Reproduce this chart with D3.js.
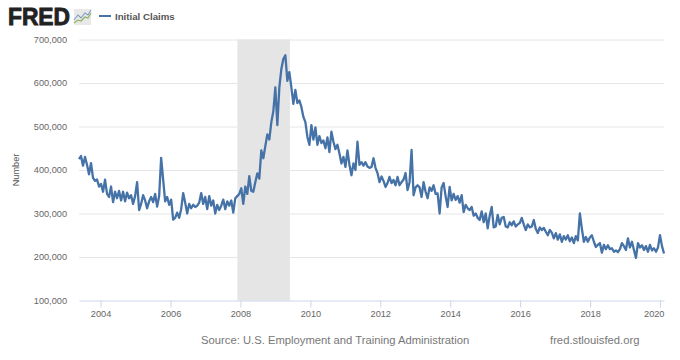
<!DOCTYPE html>
<html><head><meta charset="utf-8">
<script src="https://cdnjs.cloudflare.com/ajax/libs/d3/7.8.5/d3.min.js"></script>
<style>html,body{margin:0;padding:0;background:#fff}svg{display:block;font-family:"Liberation Sans",Arial,sans-serif}</style>
</head><body><svg id="c" width="680" height="360"></svg>
<script>
const seriesName = "Initial Claims";
const startDate = "2003-05-21";
const endDate = "2020-02-12";
const recession = ["2007-12-01", "2009-06-01"];
const yTicks = [100000,200000,300000,400000,500000,600000,700000];
const xTickYears = [2004,2006,2008,2010,2012,2014,2016,2018,2020];
// Initial claims, thousands at roughly three-week spacing
const claims = [
425,432,410,430,412,390,416,382,375,378,
362,368,350,378,345,338,362,326,350,335,
352,330,350,328,348,335,342,322,340,372,
308,322,342,330,312,328,338,326,345,316,
340,428,378,328,338,320,332,286,290,302,
290,310,347,325,300,322,312,320,315,318,
325,347,322,338,310,340,318,330,300,320,
308,318,332,310,328,318,330,302,335,340,
345,358,322,362,345,386,352,350,372,392,
380,445,427,455,482,470,510,535,590,503,
590,632,655,664,605,625,590,552,584,554,
560,545,522,510,476,458,503,470,498,458,
478,462,468,450,475,441,488,465,448,458,
438,415,430,407,445,412,388,415,400,465,
412,418,410,418,408,405,407,427,405,393,
372,385,375,361,370,384,370,377,365,384,
365,372,378,393,354,372,446,342,360,365,
360,338,372,350,335,360,352,365,345,346,
300,360,370,340,315,361,330,345,331,340,
325,342,303,320,312,308,315,295,300,290,
285,305,280,300,266,295,315,268,270,297,
275,290,292,270,268,280,273,282,270,275,
278,290,275,262,275,268,270,285,265,255,
268,262,267,258,250,262,256,243,255,240,
252,235,248,240,250,236,245,232,248,238,
300,265,235,246,235,245,250,235,223,228,
232,210,228,218,227,218,220,212,215,211,
218,232,225,216,243,222,235,216,198,232,
222,227,216,225,212,228,215,220,212,222,
250,225,208
];

const svg = d3.select("#c");
const parse = d3.utcParse("%Y-%m-%d");
const t0 = parse(startDate), t1 = parse(endDate);
const x = d3.scaleUtc().domain([t0,t1]).range([79,664]);
const y = d3.scaleLinear().domain([100000,700000]).range([300.5,39.5]);
const step = (t1-t0)/(claims.length-1);
const rows = claims.map((v,i)=>({date:new Date(+t0+i*step), value:v*1000}));

// recession band
svg.append("rect").attr("x",x(parse(recession[0]))).attr("y",39.5)
  .attr("width",x(parse(recession[1]))-x(parse(recession[0]))).attr("height",261)
  .attr("fill","#e5e5e5");

// grid + y labels
const yAxis = d3.axisLeft(y).tickValues(yTicks).tickSize(-585).tickPadding(12).tickFormat(d3.format(","));
const gy = svg.append("g").attr("transform","translate(79,0)").call(yAxis);
gy.select(".domain").remove();
gy.selectAll(".tick line").attr("stroke","#e6e6e6").attr("stroke-width",1);
gy.selectAll(".tick").filter(d=>d===100000).select("line").remove();
gy.selectAll("text").attr("fill","#666").attr("font-size",9.2).attr("font-family","Liberation Sans");

// x axis
const xAxis = d3.axisBottom(x).tickValues(xTickYears.map(yr=>new Date(Date.UTC(yr,0,1))))
  .tickSize(7).tickPadding(3).tickSizeOuter(0).tickFormat(d3.utcFormat("%Y"));
const gx = svg.append("g").attr("transform","translate(0,300.5)").call(xAxis);
gx.select(".domain").attr("stroke","#ccd6eb");
gx.selectAll(".tick line").attr("stroke","#ccd6eb");
gx.selectAll("text").attr("fill","#666").attr("font-size",9.2).attr("font-family","Liberation Sans");
gx.selectAll(".tick").filter(d=>d.getUTCFullYear()===2020).select("text").attr("text-anchor","end").attr("x",4);

// series
svg.append("path").datum(rows).attr("fill","none").attr("stroke","#4572a7").attr("stroke-width",2.3)
  .attr("stroke-linejoin","round")
  .attr("d",d3.line().x(d=>x(d.date)).y(d=>y(d.value)));

// y title
svg.append("text").attr("transform","translate(18.5,170) rotate(-90)").attr("text-anchor","middle")
  .attr("font-size",9.2).attr("fill","#555").text("Number");

// logo
svg.append("text").attr("x",8).attr("y",24.5).attr("font-size",24).attr("font-weight",700)
  .attr("fill","#222").attr("stroke","#222").attr("stroke-width",0.9)
  .attr("textLength",62).attr("lengthAdjust","spacingAndGlyphs").text("FRED");
const icon = svg.append("g");
icon.append("rect").attr("x",74).attr("y",9).attr("width",17).attr("height",16).attr("fill","#e8e8e8");
const iconLine = d3.line();
icon.append("path").attr("d",iconLine([[74,20],[78,15],[81,18],[85,13],[88,15],[91,10]])).attr("fill","none").attr("stroke","#7d9dc0").attr("stroke-width",1.1);
icon.append("path").attr("d",iconLine([[74,23],[78,20],[81,21],[85,17],[88,18],[91,13]])).attr("fill","none").attr("stroke","#8fb05a").attr("stroke-width",1.1);

// legend
svg.append("line").attr("x1",99).attr("x2",111).attr("y1",16).attr("y2",16).attr("stroke","#4572a7").attr("stroke-width",2);
svg.append("text").attr("x",115).attr("y",19.5).attr("font-size",9.7).attr("font-weight",700).attr("fill","#555").text(seriesName);

// footer
svg.append("text").attr("x",201).attr("y",344).attr("font-size",11.25).attr("fill","#777").text("Source: U.S. Employment and Training Administration");
svg.append("text").attr("x",550).attr("y",344).attr("font-size",11.25).attr("fill","#777").text("fred.stlouisfed.org");
</script></body></html>
